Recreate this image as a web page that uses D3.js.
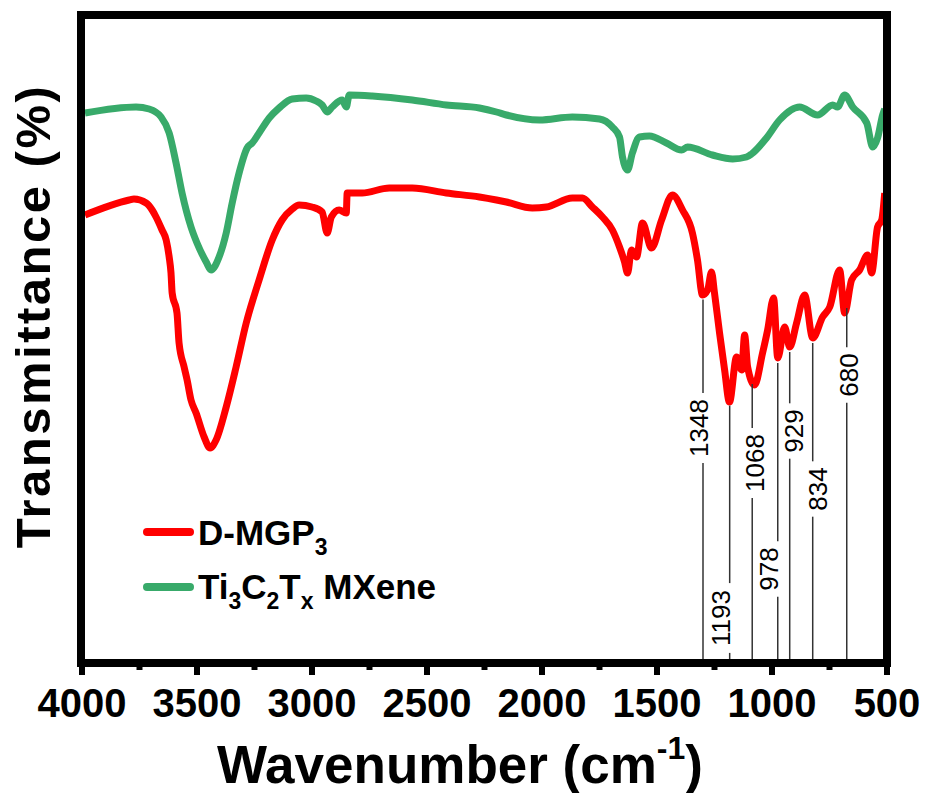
<!DOCTYPE html>
<html>
<head>
<meta charset="utf-8">
<script src="https://cdn.jsdelivr.net/npm/d3@7"></script>
<style>
  html, body { margin: 0; padding: 0; background: #fff; }
  #ftir-chart { width: 927px; height: 793px; }
  text { font-family: "Liberation Sans", Arial, sans-serif; fill: #000; }
</style>
</head>
<body>
<div id="ftir-chart"></div>
<script>
// FTIR spectra: D-MGP3 vs Ti3C2Tx MXene (transmittance, arbitrary offset units)

// --- 1. DATA ---
const xTickValues = [4000, 3500, 3000, 2500, 2000, 1500, 1000, 500];
const xMinorTicks = [3750, 3250, 2750, 2250, 1750, 1250, 750];

const mxeneWn = [3987, 3765, 3708, 3656, 3621, 3591, 3565, 3526, 3500, 3460, 3439, 3404, 3373, 3347, 3317,
  3282, 3260, 3230, 3186, 3143, 3086, 3025, 2982, 2956, 2934, 2912, 2869, 2851, 2838, 2738, 2564, 2416,
  2272, 2198, 2155, 2011, 1868, 1750, 1694, 1663, 1650, 1628, 1607, 1576, 1533, 1459, 1393, 1367, 1259,
  1171, 1111, 1089, 1024, 967, 880, 802, 736, 715, 684, 649, 588, 562, 541, 519, 510];
const mxeneT = [55.0, 55.6, 55.4, 54.6, 53.0, 50.0, 47.0, 43.6, 42.0, 40.1, 39.3, 40.6, 43.0, 46.0, 49.0,
  51.5, 52.0, 53.0, 54.5, 55.5, 56.4, 56.5, 56.2, 55.8, 55.1, 55.6, 56.3, 55.6, 56.8, 56.7, 56.3, 55.8,
  55.5, 55.1, 54.8, 54.3, 54.6, 54.4, 53.6, 52.6, 50.6, 49.3, 51.0, 52.6, 52.7, 52.0, 51.3, 51.6, 50.8,
  50.4, 50.6, 50.9, 52.5, 54.3, 55.6, 54.8, 55.8, 55.6, 56.8, 55.6, 54.0, 51.6, 52.5, 54.8, 55.4];

const dmgpWn = [3987, 3795, 3774, 3721, 3695, 3678, 3652, 3634, 3621, 3613, 3608, 3587, 3578, 3556, 3543,
  3526, 3504, 3469, 3443, 3417, 3373, 3330, 3286, 3230, 3173, 3130, 3086, 3056, 3000, 2956, 2934, 2916,
  2882, 2851, 2847, 2782, 2664, 2564, 2416, 2272, 2198, 2155, 2042, 1981, 1868, 1824, 1781, 1737, 1694,
  1663, 1641, 1628, 1611, 1589, 1563, 1524, 1480, 1433, 1389, 1346, 1324, 1302, 1280, 1263, 1250, 1228,
  1206, 1185, 1154, 1132, 1119, 1106, 1076, 1041, 1019, 993, 975, 945, 923, 893, 858, 823, 780, 749,
  706, 684, 654, 619, 584, 567, 541, 523, 510];
const dmgpT = [44.8, 46.3, 46.4, 46.0, 45.3, 44.6, 43.3, 42.3, 40.6, 39.0, 37.0, 35.0, 32.0, 29.6, 28.3,
  26.3, 25.0, 22.6, 21.5, 22.3, 25.6, 29.6, 34.0, 38.3, 42.3, 44.3, 45.4, 45.8, 45.6, 45.1, 43.0, 44.6,
  45.3, 45.0, 47.0, 47.0, 47.5, 47.5, 47.0, 46.6, 46.3, 46.1, 45.5, 45.6, 46.5, 46.5, 45.6, 44.6, 43.3,
  41.6, 40.1, 39.0, 41.3, 40.6, 44.0, 41.5, 44.3, 46.8, 45.3, 43.0, 40.3, 36.8, 37.3, 39.1, 37.0, 33.0,
  29.3, 26.1, 30.6, 29.3, 32.8, 29.6, 27.8, 31.0, 33.3, 36.5, 30.5, 33.6, 31.6, 34.0, 36.8, 32.5, 34.6, 35.6,
  39.3, 35.0, 38.3, 39.3, 40.8, 39.0, 43.6, 44.3, 47.0];

// marked D-MGP3 bands: where the guide line sits, and its label
const peakWn = [1300, 1184, 1086, 975, 923, 823, 675];
const peakLabels = ["1348", "1193", "1068", "978", "929", "834", "680"];

const seriesNames = ["D-MGP", "Ti3C2Tx MXene"];

(function () {
    'use strict';

    function renderChart() {
        const W = 927, H = 793;
        const plot = { left: 81, right: 887, top: 15, bottom: 663 };

        const svg = d3.select("#ftir-chart")
            .append("svg")
            .attr("width", W)
            .attr("height", H)
            .attr("viewBox", `0 0 ${W} ${H}`);

        // --- SCALES ---
        const x = d3.scaleLinear().domain([4000, 500]).range([82, 887]);
        const y = d3.scaleLinear().domain([0, 64.8]).range([plot.bottom, plot.top]);

        svg.append("clipPath").attr("id", "plot-clip")
            .append("rect")
            .attr("x", plot.left).attr("y", plot.top)
            .attr("width", plot.right - plot.left).attr("height", plot.bottom - plot.top);

        // --- CURVES ---
        const line = d3.line()
            .x(d => x(d[0]))
            .y(d => y(d[1]))
            .curve(d3.curveMonotoneX);

        const mxene = mxeneWn.map((w, i) => [w, mxeneT[i]]);
        const dmgp = dmgpWn.map((w, i) => [w, dmgpT[i]]);

        const curves = svg.append("g").attr("clip-path", "url(#plot-clip)");
        curves.append("path").datum(mxene)
            .attr("d", line)
            .attr("fill", "none")
            .attr("stroke", "#38aa6a")
            .attr("stroke-width", 7)
            .attr("stroke-linejoin", "round");
        curves.append("path").datum(dmgp)
            .attr("d", line)
            .attr("fill", "none")
            .attr("stroke", "#ff0000")
            .attr("stroke-width", 7)
            .attr("stroke-linejoin", "round");

        // --- PEAK GUIDES ---
        // label centre (in y units) and baseline shift from the guide, per label
        const labelY = [23.5, 4.5, 20.0, 9.4, 23.2, 17.4, 28.8];
        const labelDx = [5, 0, 12, 0, 13, 14, 11];
        const interp = d3.scaleLinear().domain(dmgpWn).range(dmgpT);

        const guides = svg.append("g");
        peakWn.forEach((w, i) => {
            const gx = x(w);
            const top = y(interp(w)) + 5;
            const half = peakLabels[i].length * 26 * 0.556 / 2;
            const cy = y(labelY[i]);
            guides.append("line")
                .attr("x1", gx).attr("x2", gx)
                .attr("y1", top).attr("y2", cy - half - 6)
                .attr("stroke", "#333").attr("stroke-width", 1.5);
            guides.append("line")
                .attr("x1", gx).attr("x2", gx)
                .attr("y1", cy + half + 6).attr("y2", plot.bottom)
                .attr("stroke", "#333").attr("stroke-width", 1.5);
            guides.append("text")
                .attr("transform", `translate(${gx + labelDx[i]},${cy}) rotate(-90)`)
                .attr("text-anchor", "middle")
                .attr("font-size", 26)
                .text(peakLabels[i]);
        });

        // --- AXIS ---
        const axis = svg.append("g");
        axis.selectAll(".major").data(xTickValues).enter().append("line")
            .attr("x1", d => x(d)).attr("x2", d => x(d))
            .attr("y1", plot.bottom).attr("y2", plot.bottom + 12)
            .attr("stroke", "#000").attr("stroke-width", 6);
        axis.selectAll(".minor").data(xMinorTicks).enter().append("line")
            .attr("x1", d => x(d)).attr("x2", d => x(d))
            .attr("y1", plot.bottom).attr("y2", plot.bottom + 7)
            .attr("stroke", "#000").attr("stroke-width", 6);
        axis.selectAll(".tick-label").data(xTickValues).enter().append("text")
            .attr("x", d => x(d))
            .attr("y", 717)
            .attr("text-anchor", "middle")
            .attr("font-size", 40)
            .attr("font-weight", "bold")
            .text(d => d);

        // frame
        svg.append("rect")
            .attr("x", plot.left).attr("y", plot.top)
            .attr("width", plot.right - plot.left).attr("height", plot.bottom - plot.top)
            .attr("fill", "none")
            .attr("stroke", "#000")
            .attr("stroke-width", 8);

        // --- TITLES ---
        const xt = svg.append("text")
            .attr("x", 460).attr("y", 783)
            .attr("text-anchor", "middle")
            .attr("font-size", 53)
            .attr("font-weight", "bold");
        xt.append("tspan").text("Wavenumber (cm");
        xt.append("tspan").attr("font-size", 32).attr("dy", -24).text("-1");
        xt.append("tspan").attr("dy", 24).text(")");

        svg.append("text")
            .attr("transform", "translate(50,316) rotate(-90)")
            .attr("text-anchor", "middle")
            .attr("font-size", 49)
            .attr("letter-spacing", 2.5)
            .attr("font-weight", "bold")
            .text("Transmittance (%)");

        // --- LEGEND ---
        const legend = svg.append("g");
        const colors = ["#ff0000", "#38aa6a"];
        const lineY = [532, 587];
        colors.forEach((c, i) => {
            legend.append("line")
                .attr("x1", 147).attr("x2", 190)
                .attr("y1", lineY[i]).attr("y2", lineY[i])
                .attr("stroke", c).attr("stroke-width", 8)
                .attr("stroke-linecap", "round");
        });

        const t1 = legend.append("text")
            .attr("x", 198).attr("y", 545)
            .attr("font-size", 35).attr("font-weight", "bold");
        t1.append("tspan").text(seriesNames[0]);
        t1.append("tspan").attr("font-size", 23).attr("dy", 10).text("3");

        const t2 = legend.append("text")
            .attr("x", 198).attr("y", 599)
            .attr("font-size", 35).attr("font-weight", "bold");
        t2.append("tspan").text("Ti");
        t2.append("tspan").attr("font-size", 23).attr("dy", 10).text("3");
        t2.append("tspan").attr("dy", -10).text("C");
        t2.append("tspan").attr("font-size", 23).attr("dy", 10).text("2");
        t2.append("tspan").attr("dy", -10).text("T");
        t2.append("tspan").attr("font-size", 23).attr("dy", 10).text("x");
        t2.append("tspan").attr("dy", -10).text(" MXene");
    }

    if (document.readyState === 'loading') {
        document.addEventListener('DOMContentLoaded', renderChart);
    } else {
        renderChart();
    }
})();
</script>
</body>
</html>
